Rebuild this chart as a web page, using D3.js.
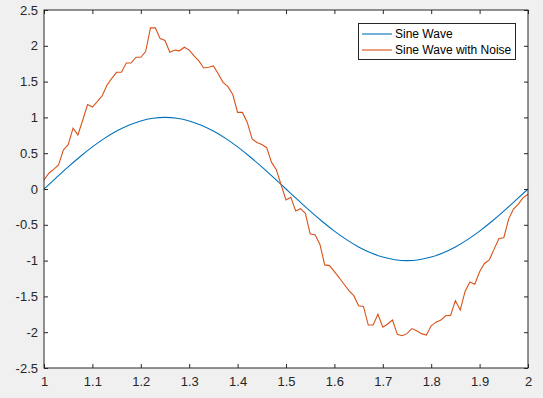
<!DOCTYPE html>
<html>
<head>
<meta charset="utf-8">
<script src="https://cdn.jsdelivr.net/npm/d3@7"></script>
<style>
  body { margin: 0; background: #f0f0f0; }
  svg { display: block; font-family: "Liberation Sans", Arial, sans-serif; }
</style>
</head>
<body>
<div id="chart"></div>
<script>
// x grid of the noisy series: 1.00 .. 2.00, step 0.01 (101 points)
const noisyStep = 0.01;
const noisyValues = [
  0.126, 0.22, 0.275, 0.335, 0.545, 0.62, 0.85, 0.755, 0.96, 1.18,
  1.145, 1.22, 1.30, 1.45, 1.545, 1.63, 1.63, 1.76, 1.76, 1.84,
  1.84, 1.92, 2.25, 2.25, 2.10, 2.075, 1.91, 1.94, 1.93, 1.98,
  1.94, 1.86, 1.79, 1.69, 1.70, 1.72, 1.61, 1.49, 1.43, 1.32,
  1.07, 1.07, 0.93, 0.70, 0.65, 0.62, 0.577, 0.375, 0.27, 0.056,
  -0.154, -0.116, -0.307, -0.275, -0.34, -0.63, -0.64, -0.77, -1.06, -1.07,
  -1.155, -1.24, -1.33, -1.42, -1.49, -1.63, -1.64, -1.90, -1.90, -1.75,
  -1.93, -1.885, -1.83, -2.03, -2.05, -2.02, -1.95, -1.98, -2.02, -2.04,
  -1.91, -1.86, -1.83, -1.77, -1.765, -1.56, -1.69, -1.43, -1.30, -1.33,
  -1.155, -1.04, -0.99, -0.84, -0.69, -0.68, -0.42, -0.28, -0.21, -0.12,
  -0.074
];

// clean sine wave read at x = 1.000 .. 2.000, step 0.025
const sineStep = 0.025;
const sineValues = [
  0, 0.156, 0.309, 0.454, 0.588, 0.707, 0.809, 0.891, 0.951, 0.988,
  1, 0.988, 0.951, 0.891, 0.809, 0.707, 0.588, 0.454, 0.309, 0.156,
  0, -0.156, -0.309, -0.454, -0.588, -0.707, -0.809, -0.891, -0.951, -0.988,
  -1, -0.988, -0.951, -0.891, -0.809, -0.707, -0.588, -0.454, -0.309, -0.156,
  0
];

const xTicks = [1, 1.1, 1.2, 1.3, 1.4, 1.5, 1.6, 1.7, 1.8, 1.9, 2];
const yTicks = [-2.5, -2, -1.5, -1, -0.5, 0, 0.5, 1, 1.5, 2, 2.5];
const seriesNames = ["Sine Wave", "Sine Wave with Noise"];
const seriesColors = ["#0072BD", "#D95319"];

const W = 543, H = 398;
const margin = { top: 10, right: 15, bottom: 30, left: 44 };
const width = W - margin.left - margin.right;
const height = H - margin.top - margin.bottom;

const svg = d3.select("#chart").append("svg")
  .attr("width", W)
  .attr("height", H);

svg.append("rect").attr("width", W).attr("height", H).attr("fill", "#f0f0f0");

const g = svg.append("g")
  .attr("transform", `translate(${margin.left},${margin.top})`);

const x = d3.scaleLinear().domain([1, 2]).range([0, width]);
const y = d3.scaleLinear().domain([-2.5, 2.5]).range([height, 0]);

g.append("rect")
  .attr("width", width).attr("height", height)
  .attr("fill", "#fff");

// lines
const sineData = sineValues.map((v, i) => ({ x: 1 + i * sineStep, y: v }));
const noisyData = noisyValues.map((v, i) => ({ x: 1 + i * noisyStep, y: v }));

g.append("path")
  .datum(sineData)
  .attr("fill", "none")
  .attr("stroke", seriesColors[0])
  .attr("stroke-width", 1.1)
  .attr("d", d3.line().x(d => x(d.x)).y(d => y(d.y)).curve(d3.curveMonotoneX));

g.append("path")
  .datum(noisyData)
  .attr("fill", "none")
  .attr("stroke", seriesColors[1])
  .attr("stroke-width", 1.1)
  .attr("d", d3.line().x(d => x(d.x)).y(d => y(d.y)));

// axes, ticks pointing inward, box on
const tickLen = 4;
const fmt = d => String(d);

const styleAxis = sel => {
  sel.select(".domain").remove();
  sel.selectAll("line").attr("stroke", "#262626");
  sel.selectAll("text").attr("fill", "#262626").style("font-size", "13px");
};

g.append("g")
  .attr("transform", `translate(0,${height})`)
  .call(d3.axisBottom(x).tickValues(xTicks).tickFormat(fmt).tickSizeInner(-tickLen).tickSizeOuter(0).tickPadding(9))
  .call(styleAxis);

g.append("g")
  .call(d3.axisTop(x).tickValues(xTicks).tickFormat("").tickSizeInner(-tickLen).tickSizeOuter(0))
  .call(styleAxis);

g.append("g")
  .call(d3.axisLeft(y).tickValues(yTicks).tickFormat(fmt).tickSizeInner(-tickLen).tickSizeOuter(0).tickPadding(6))
  .call(styleAxis);

g.append("g")
  .attr("transform", `translate(${width},0)`)
  .call(d3.axisRight(y).tickValues(yTicks).tickFormat("").tickSizeInner(-tickLen).tickSizeOuter(0))
  .call(styleAxis);

g.append("rect")
  .attr("width", width).attr("height", height)
  .attr("fill", "none")
  .attr("stroke", "#262626")
  .attr("stroke-width", 1);

// legend
const legend = g.append("g")
  .attr("transform", `translate(${358 - margin.left},${23 - margin.top})`);

legend.append("rect")
  .attr("x", 0.5).attr("y", 0.5)
  .attr("width", 157).attr("height", 36)
  .attr("fill", "#fff")
  .attr("stroke", "#262626");

seriesNames.forEach((name, i) => {
  const row = legend.append("g").attr("transform", `translate(0,${11 + i * 16})`);
  row.append("line")
    .attr("x1", 4).attr("x2", 34)
    .attr("stroke", seriesColors[i])
    .attr("stroke-width", 1.1);
  row.append("text")
    .attr("x", 37).attr("dy", "0.35em")
    .attr("fill", "#000")
    .style("font-size", "12px")
    .text(name);
});
</script>
</body>
</html>
